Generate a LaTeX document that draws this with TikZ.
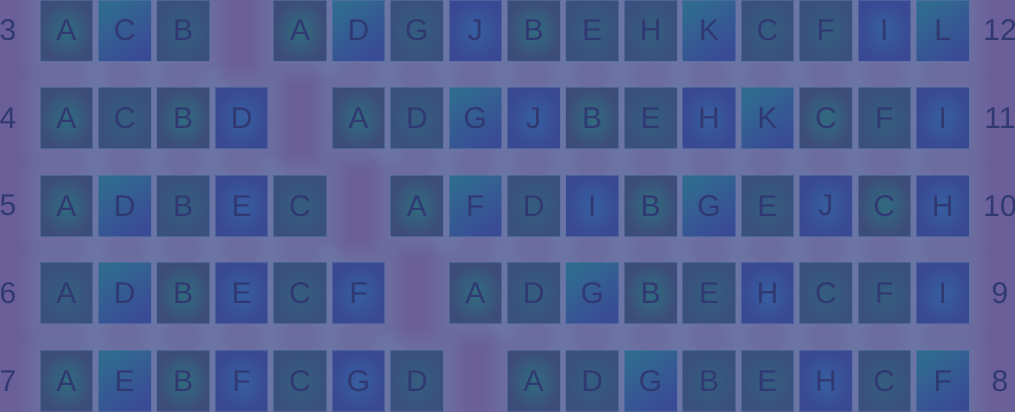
\documentclass[tikz,border=0pt]{standalone}
\usepackage{fontspec}
\setmainfont{Liberation Sans}
\definecolor{bgc}{HTML}{6B5F9A}
\definecolor{glowc}{HTML}{7190B6}
\definecolor{txt}{HTML}{313973}
\definecolor{edgec}{HTML}{5A74A4}
\definecolor{sqbi}{HTML}{365FA0}
\definecolor{sqbo}{HTML}{3A4994}
\definecolor{sqsi}{HTML}{345E80}
\definecolor{sqso}{HTML}{3A507E}
\definecolor{sqct}{HTML}{306A90}
\definecolor{sqcb}{HTML}{3A4B96}
\definecolor{sqgi}{HTML}{306C80}
\definecolor{sqgo}{HTML}{3D4D7A}
\newcommand\glowrow[2]{%
  \foreach \c/\l/\s in {#2}{
    \pgfmathsetmacro\xx{66.3+58.43*\c}
    \pgfmathsetmacro\yy{30.5+87.6*#1}
    \foreach \k in {1,...,6}{
      \fill[glowc,fill opacity=0.065,rounded corners=\k*4pt]
        (\xx-26.3-\k*3.6,\yy-30.5-\k*3.6) rectangle (\xx+26.3+\k*3.6,\yy+30.5+\k*3.6);
    }
  }}
\newcommand\sqrow[2]{%
  \foreach \c/\l/\s in {#2}{
    \pgfmathsetmacro\xx{66.3+58.43*\c}
    \pgfmathsetmacro\yy{30.5+87.6*#1}
    \node[sq\s] (r#1c\c) at (\xx,\yy) {\l};
  }}
\begin{document}
\begin{tikzpicture}[x=1pt,y=-1pt,
  sqbase/.style={rectangle,minimum width=52.6pt,minimum height=61pt,inner sep=0pt,
    draw=edgec,draw opacity=0.6,line width=0.8pt,text=txt,font=\fontsize{30}{30}\selectfont},
  sqg/.style={sqbase,inner color=sqgi,outer color=sqgo},
  sqb/.style={sqbase,inner color=sqbi,outer color=sqbo},
  sqs/.style={sqbase,inner color=sqsi,outer color=sqso},
  sqc/.style={sqbase,shading=axis,top color=sqct,bottom color=sqcb,shading angle=35},
  lab/.style={text=txt,font=\fontsize{30}{30}\selectfont,inner sep=0pt}]
\useasboundingbox (0,0) rectangle (1015,412);
\clip (0,0) rectangle (1015,412);
\fill[bgc] (0,0) rectangle (1015,412);
\def\Lzero{0/A/g,1/C/c,2/B/s,4/A/g,5/D/c,6/G/s,7/J/b,8/B/g,9/E/s,10/H/s,11/K/c,12/C/s,13/F/s,14/I/b,15/L/c}
\def\Lone{0/A/g,1/C/s,2/B/g,3/D/b,5/A/g,6/D/s,7/G/c,8/J/b,9/B/g,10/E/s,11/H/b,12/K/c,13/C/g,14/F/s,15/I/b}
\def\Ltwo{0/A/g,1/D/c,2/B/s,3/E/b,4/C/s,6/A/g,7/F/c,8/D/s,9/I/b,10/B/g,11/G/c,12/E/s,13/J/b,14/C/g,15/H/b}
\def\Lthree{0/A/s,1/D/c,2/B/g,3/E/b,4/C/s,5/F/b,7/A/g,8/D/s,9/G/c,10/B/g,11/E/s,12/H/b,13/C/s,14/F/s,15/I/b}
\def\Lfour{0/A/g,1/E/c,2/B/g,3/F/b,4/C/s,5/G/b,6/D/s,8/A/g,9/D/s,10/G/c,11/B/s,12/E/s,13/H/b,14/C/s,15/F/c}
% glow pass
\expandafter\glowrow\expandafter0\expandafter{\Lzero}
\expandafter\glowrow\expandafter1\expandafter{\Lone}
\expandafter\glowrow\expandafter2\expandafter{\Ltwo}
\expandafter\glowrow\expandafter3\expandafter{\Lthree}
\expandafter\glowrow\expandafter4\expandafter{\Lfour}
% squares
\expandafter\sqrow\expandafter0\expandafter{\Lzero}
\expandafter\sqrow\expandafter1\expandafter{\Lone}
\expandafter\sqrow\expandafter2\expandafter{\Ltwo}
\expandafter\sqrow\expandafter3\expandafter{\Lthree}
\expandafter\sqrow\expandafter4\expandafter{\Lfour}
% row numbers
\foreach \r/\a/\b in {0/3/12,1/4/11,2/5/10,3/6/9,4/7/8}{
  \pgfmathsetmacro\yy{30.5+87.6*\r}
  \node[lab] (nl\r) at (8,\yy) {\a};
  \node[lab] (nr\r) at (1000,\yy) {\b};
}
\end{tikzpicture}
\end{document}
